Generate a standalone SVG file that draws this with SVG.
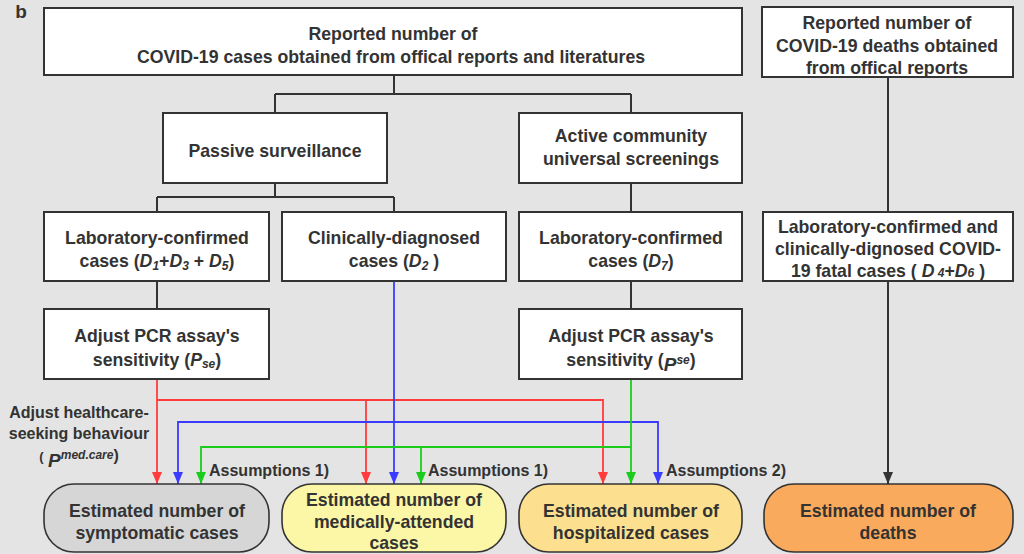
<svg xmlns="http://www.w3.org/2000/svg" width="1024" height="554" viewBox="0 0 1024 554">
<defs>
<style>
text{font-family:"Liberation Sans",Arial,sans-serif;font-weight:bold;fill:#333;font-size:17.7px;text-anchor:middle}
.sm{font-size:16px}
.box{fill:#fff;stroke:#333;stroke-width:2}
.pill{stroke:#333;stroke-width:1.6}
.k{fill:none;stroke:#333;stroke-width:2}
.r{fill:none;stroke:#ff3b3b;stroke-width:1.8}
.b{fill:none;stroke:#3b3bff;stroke-width:1.8}
.g{fill:none;stroke:#1ccc1c;stroke-width:1.8}
.it{font-style:italic}
.sub{font-size:12px;font-style:italic}
</style>
<marker id="ar" viewBox="0 0 10 12" refX="5" refY="12" markerWidth="10" markerHeight="12" markerUnits="userSpaceOnUse"><path d="M0,0 L10,0 L5,12 Z" fill="#ff3b3b"/></marker>
<marker id="ab" viewBox="0 0 10 12" refX="5" refY="12" markerWidth="10" markerHeight="12" markerUnits="userSpaceOnUse"><path d="M0,0 L10,0 L5,12 Z" fill="#3b3bff"/></marker>
<marker id="ag" viewBox="0 0 10 12" refX="5" refY="12" markerWidth="10" markerHeight="12" markerUnits="userSpaceOnUse"><path d="M0,0 L10,0 L5,12 Z" fill="#1ccc1c"/></marker>
<marker id="ak" viewBox="0 0 10 12" refX="5" refY="12" markerWidth="10" markerHeight="12" markerUnits="userSpaceOnUse"><path d="M0,0 L10,0 L5,12 Z" fill="#333"/></marker>
</defs>
<rect width="1024" height="554" fill="#e4e4e4"/>
<text x="21" y="18" style="font-size:19px">b</text>

<g id="connectors">
<path class="k" d="M394,75 V94 M275,94 H631 M275,94 V113 M631,94 V113"/>
<path class="k" d="M275,183 V197 M157,197 H394 M157,197 V212 M394,197 V212"/>
<path class="k" d="M631,183 V212"/>
<path class="k" d="M888,77 V212"/>
<path class="k" d="M157,281 V309"/>
<path class="k" d="M631,281 V309"/>
<path class="k" d="M888,281 V484" marker-end="url(#ak)"/>
<path class="r" d="M157,379 V484" marker-end="url(#ar)"/>
<path class="r" d="M157,400 H603 V484" marker-end="url(#ar)"/>
<path class="r" d="M366,400 V484" marker-end="url(#ar)"/>
<path class="b" d="M394,281 V484" marker-end="url(#ab)"/>
<path class="b" d="M178,484 V422 H658 V484" marker-end="url(#ab)" marker-start="url(#ab)"/>
<path class="g" d="M631,379 V484" marker-end="url(#ag)"/>
<path class="g" d="M201,484 V447 H631" marker-start="url(#ag)"/>
<path class="g" d="M421,447 V484" marker-end="url(#ag)"/>
</g>

<g id="n-reported-cases">
<rect class="box" x="44" y="8" width="698" height="67"/>
<text x="393" y="40">Reported number of</text>
<text x="391" y="63">COVID-19 cases obtained from offical reports and literatures</text>
</g>
<g id="n-reported-deaths">
<rect class="box" x="762" y="7" width="251" height="70"/>
<text x="887" y="29">Reported number of</text>
<text x="887" y="52">COVID-19 deaths obtained</text>
<text x="887" y="74">from offical reports</text>
</g>
<g id="n-passive">
<rect class="box" x="163" y="113" width="224" height="70"/>
<text x="275" y="157">Passive surveillance</text>
</g>
<g id="n-active">
<rect class="box" x="519" y="113" width="223" height="70"/>
<text x="631" y="142">Active community</text>
<text x="631" y="165">universal screenings</text>
</g>
<g id="n-lab1">
<rect class="box" x="44" y="212" width="225" height="69"/>
<text x="157" y="244">Laboratory-confirmed</text>
<text x="157" y="267">cases (<tspan class="it">D</tspan><tspan class="sub" dy="3">1</tspan><tspan dy="-3">+</tspan><tspan class="it">D</tspan><tspan class="sub" dy="3">3</tspan><tspan dy="-3"> + </tspan><tspan class="it">D</tspan><tspan class="sub" dy="3">5</tspan><tspan dy="-3">)</tspan></text>
</g>
<g id="n-clin">
<rect class="box" x="282" y="212" width="224" height="69"/>
<text x="394" y="244">Clinically-diagnosed</text>
<text x="394" y="267">cases (<tspan class="it">D</tspan><tspan class="sub" dy="3">2</tspan><tspan dy="-3"> )</tspan></text>
</g>
<g id="n-lab2">
<rect class="box" x="519" y="212" width="223" height="69"/>
<text x="631" y="244">Laboratory-confirmed</text>
<text x="631" y="267">cases (<tspan class="it">D</tspan><tspan class="sub" dy="3">7</tspan><tspan dy="-3">)</tspan></text>
</g>
<g id="n-fatal">
<rect class="box" x="763" y="212" width="250" height="69"/>
<text x="888" y="233">Laboratory-confirmed and</text>
<text x="888" y="255">clinically-dignosed COVID-</text>
<text x="888" y="277">19 fatal cases ( <tspan class="it">D</tspan><tspan class="sub"> 4</tspan>+<tspan class="it">D</tspan><tspan class="sub">6</tspan> )</text>
</g>
<g id="n-pcr1">
<rect class="box" x="44" y="309" width="225" height="70"/>
<text x="157" y="342">Adjust PCR assay's</text>
<text x="157" y="366">sensitivity (<tspan class="it">P</tspan><tspan class="sub" dy="2">se</tspan><tspan dy="-2">)</tspan></text>
</g>
<g id="n-pcr2">
<rect class="box" x="519" y="309" width="223" height="70"/>
<text x="631" y="342">Adjust PCR assay's</text>
<text x="631" y="366">sensitivity (<tspan class="it" style="font-size:19px" dy="5">P</tspan><tspan class="sub" dy="-7">se</tspan><tspan dy="2">)</tspan></text>
</g>

<g id="labels">
<text class="sm" x="79" y="418">Adjust healthcare-</text>
<text class="sm" x="79" y="439">seeking behaviour</text>
<text class="sm" x="79" y="461"><tspan style="font-size:13px">(</tspan> <tspan class="it" style="font-size:19px" dy="6">P</tspan><tspan class="sub" dy="-8">med.care</tspan><tspan dy="2">)</tspan></text>
<text class="sm" x="209" y="476" style="text-anchor:start">Assumptions 1)</text>
<text class="sm" x="428" y="476" style="text-anchor:start">Assumptions 1)</text>
<text class="sm" x="666" y="476" style="text-anchor:start">Assumptions 2)</text>
</g>

<g id="n-symptomatic">
<rect class="pill" x="44" y="484" width="225" height="68" rx="30" fill="#d6d6d6"/>
<text x="157" y="517">Estimated number of</text>
<text x="157" y="539">symptomatic cases</text>
</g>
<g id="n-medical">
<rect class="pill" x="282" y="484" width="224" height="68" rx="30" fill="#fbf7a6"/>
<text x="394" y="506">Estimated number of</text>
<text x="394" y="528">medically-attended</text>
<text x="394" y="549">cases</text>
</g>
<g id="n-hospital">
<rect class="pill" x="519" y="484" width="223" height="68" rx="30" fill="#fde08f"/>
<text x="631" y="517">Estimated number of</text>
<text x="631" y="539">hospitalized cases</text>
</g>
<g id="n-deaths">
<rect class="pill" x="764" y="484" width="249" height="68" rx="30" fill="#f9aa5c"/>
<text x="888" y="517">Estimated number of</text>
<text x="888" y="539">deaths</text>
</g>
</svg>
